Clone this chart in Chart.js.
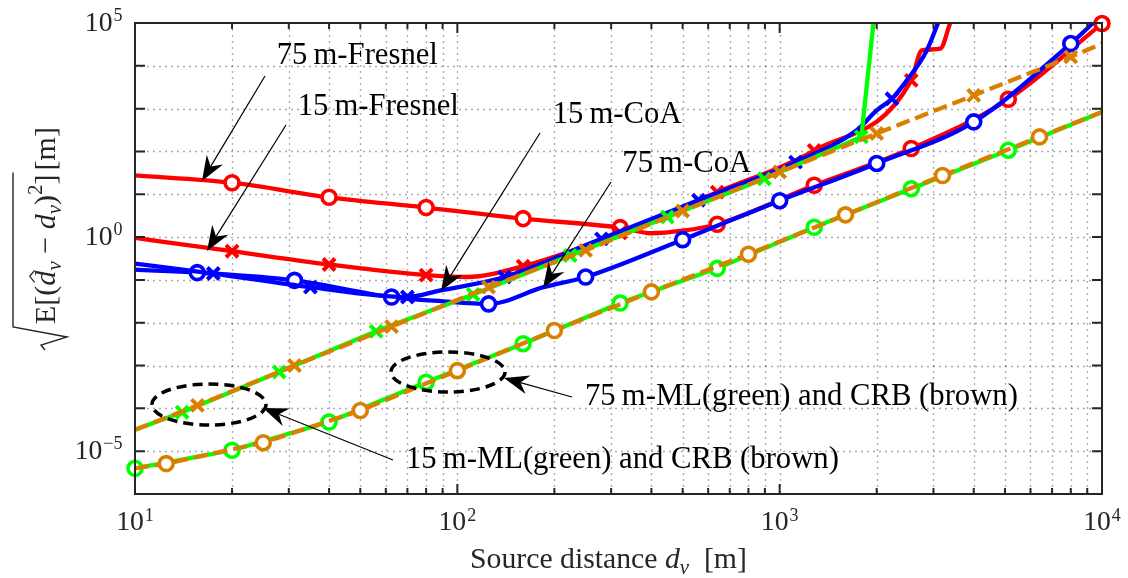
<!DOCTYPE html>
<html>
<head>
<meta charset="utf-8">
<script src="https://cdn.jsdelivr.net/npm/chart.js@4.4.0/dist/chart.umd.min.js"></script>
<style>
  html, body { margin: 0; padding: 0; background: #fff; }
  #wrap { width: 1128px; height: 578px; position: relative; }
</style>
</head>
<body>
<div id="wrap"><canvas id="my-chart"></canvas></div>
<script>
// ---- data ----
let fresnel75X = [10, 20, 40, 80, 160, 320, 400, 500, 640, 1280, 2560, 5120, 10000];
let fresnel75Y = [27.5, 18.6, 8.5, 4.9, 2.7, 1.66, 1.23, 1.41, 2.0, 16.2, 117, 1660, 97000];
let fresnel75Marks = [20, 40, 80, 160, 320, 640, 1280, 2560, 5120, 10000];

let fresnel15X = [10, 20, 40, 80, 107, 160, 320, 640, 1280, 2560, 2760, 3150, 3380];
let fresnel15Y = [0.955, 0.468, 0.229, 0.129, 0.117, 0.209, 1.26, 11.2, 105, 4570, 22900, 25100, 100000];
let fresnel15Marks = [20, 40, 80, 160, 320, 640, 1280, 2560];

let coa15X = [10, 17.5, 35, 70, 88, 140, 280, 560, 1120, 1730, 2000, 2230, 2480, 2860, 3100];
let coa15Y = [0.24, 0.141, 0.0676, 0.0398, 0.0562, 0.117, 0.912, 7.24, 56.2, 309, 912, 1700, 4570, 22900, 100000];
let coa15Marks = [17.5, 35, 70, 140, 280, 560, 1120, 2230];

let coa75X = [10, 15.6, 31.25, 62.5, 90, 125, 185, 250, 500, 1000, 2000, 4000, 8000, 9380];
let coa75Y = [0.174, 0.148, 0.0977, 0.0398, 0.0316, 0.0275, 0.0676, 0.117, 0.871, 7.08, 52.5, 490, 33100, 100000];
let coa75Marks = [15.6, 31.25, 62.5, 125, 250, 500, 1000, 2000, 4000, 8000];

let ml15X = [10, 20, 40, 80, 160, 320, 640, 1280, 2560, 5120, 10000];
let ml15Y = [3.98e-6, 1.05e-5, 4.79e-5, 4.07e-4, 3.24e-3, 0.0288, 0.186, 1.70, 13.5, 107, 832];
let ml15Marks = [10, 20, 40, 80, 160, 320, 640, 1280, 2560, 5120];

let crb15X = [10, 12.5, 25, 50, 100, 200, 400, 800, 1600, 3200, 6400, 10000];
let crb15Y = [3.98e-6, 5.13e-6, 1.58e-5, 8.91e-5, 7.59e-4, 6.6e-3, 0.0525, 0.398, 3.31, 27.5, 219, 832];
let crb15Marks = [12.5, 25, 50, 100, 200, 400, 800, 1600, 3200, 6400];

let ml75X = [10, 14, 28, 56, 112, 224, 448, 896, 1792, 1954];
let ml75Y = [3.16e-5, 8.13e-5, 7.08e-4, 6.3e-3, 0.0457, 0.372, 2.95, 22.9, 219, 100000];
let ml75Marks = [14, 28, 56, 112, 224, 448, 896, 1792];

let crb75X = [10, 15.625, 31.25, 62.5, 125, 250, 500, 1000, 2000, 4000, 8000, 10000];
let crb75Y = [3.16e-5, 1.17e-4, 1e-3, 8.13e-3, 0.0676, 0.49, 4.07, 33.1, 263, 2040, 16200, 33100];
let crb75Marks = [15.625, 31.25, 62.5, 125, 250, 500, 1000, 2000, 4000, 8000];

let xTicks = [10, 100, 1000, 10000];
let xTickExps = ["1", "2", "3", "4"];
let yTicks = [1e-5, 1, 1e5];
let yTickExps = ["\u22125", "0", "5"];

const FONT = "'Liberation Serif', 'DejaVu Serif', serif";
const RED = "#ff0000", BLUE = "#0000ff", GREEN = "#00ff00", BROWN = "#d98000";

function pts(xs, ys) {
  return xs.map((x, i) => ({ x: x, y: ys[i] }));
}

function makeSet(label, xs, ys, marks, color, marker, order, smooth, dash) {
  const circle = marker === "circle";
  const set = {
    label: label,
    data: pts(xs, ys),
    showLine: true,
    order: order,
    borderColor: color,
    borderWidth: 4.3,
    borderDash: dash || [],
    tension: 0,
    clip: false,
    pointStyle: circle ? "circle" : "crossRot",
    pointRadius: (c) => (c.raw && marks.includes(c.raw.x) ? (circle ? 7 : 8.5) : 0),
    pointHoverRadius: 0,
    pointBorderWidth: circle ? 3.6 : 4,
    pointBorderColor: color,
    pointBackgroundColor: "#ffffff",
  };
  if (smooth) set.cubicInterpolationMode = "monotone";
  return set;
}

// ---- text helpers ----
function setFont(ctx, size, italic) {
  ctx.font = (italic ? "italic " : "") + size.toFixed(2) + "px " + FONT;
}
function runSize(r, s) {
  return r.sub || r.sup ? s * 0.7 : s;
}
function measureRuns(ctx, runs, s) {
  let w = 0;
  for (const r of runs) {
    setFont(ctx, runSize(r, s), r.it);
    w += ctx.measureText(r.t).width;
  }
  return w;
}
function drawRuns(ctx, runs, x, y, s) {
  let cx = x;
  for (const r of runs) {
    const sz = runSize(r, s);
    setFont(ctx, sz, r.it);
    const w = ctx.measureText(r.t).width;
    const dy = r.sub ? 0.2 * s : r.sup ? -0.42 * s : 0;
    ctx.fillText(r.t, cx, y + dy);
    if (r.hat) {
      const hx = cx + w * 0.62, hy = y - 0.78 * s;
      ctx.beginPath();
      ctx.moveTo(hx - 0.2 * s, hy + 0.1 * s);
      ctx.lineTo(hx, hy - 0.06 * s);
      ctx.lineTo(hx + 0.2 * s, hy + 0.1 * s);
      ctx.lineWidth = 1.3;
      ctx.stroke();
    }
    cx += w;
  }
  return cx;
}
function fitSize(ctx, runs, width) {
  return 20 * width / measureRuns(ctx, runs, 20);
}

function tickLabel(ctx, exp, x, y, align) {
  setFont(ctx, 27.7, false);
  const w1 = ctx.measureText("10").width;
  setFont(ctx, 18, false);
  const w2 = ctx.measureText(exp).width;
  const total = w1 + 1 + w2;
  const start = align === "center" ? x - total / 2 : x - total;
  setFont(ctx, 27.7, false);
  ctx.fillText("10", start, y);
  setFont(ctx, 18, false);
  ctx.fillText(exp, start + w1 + 1, y - 9.5);
}

function arrow(ctx, x0, y0, x1, y1) {
  const dx = x1 - x0, dy = y1 - y0, L = Math.hypot(dx, dy);
  const ux = dx / L, uy = dy / L, nx = -uy, ny = ux;
  const hl = 25, hw = 9.5, notch = 17;
  ctx.beginPath();
  ctx.moveTo(x0, y0);
  ctx.lineTo(x1 - ux * notch, y1 - uy * notch);
  ctx.lineWidth = 1.2;
  ctx.stroke();
  ctx.beginPath();
  ctx.moveTo(x1, y1);
  ctx.lineTo(x1 - ux * hl + nx * hw, y1 - uy * hl + ny * hw);
  ctx.lineTo(x1 - ux * notch, y1 - uy * notch);
  ctx.lineTo(x1 - ux * hl - nx * hw, y1 - uy * hl - ny * hw);
  ctx.closePath();
  ctx.fill();
}

// annotation texts: [text, left, baseline, right]
let notes = [
  ["75\u2009m-Fresnel", 276.7, 64, 431.7],
  ["15\u2009m-Fresnel", 297.7, 115, 452.7],
  ["15\u2009m-CoA", 552.7, 123.3, 673],
  ["75\u2009m-CoA", 622.3, 171.7, 742.3],
  ["75\u2009m-ML(green) and CRB (brown)", 585, 405, 1018],
  ["15\u2009m-ML(green) and CRB (brown)", 406, 467.7, 841.7],
];
let arrows = [
  [265, 76, 202, 181],
  [286, 125, 207, 251],
  [540, 133, 441, 291],
  [611, 182, 543, 288],
  [572, 397, 504, 378],
  [393, 460, 263, 408],
];
let ellipses = [
  [209, 404.5, 57, 20.5],
  [448, 372, 57, 20],
];

const frame = {
  id: "frame",
  beforeDatasetsDraw(chart) {
    const { ctx, chartArea: a, scales } = chart;
    const xs = scales.x, ys = scales.y;
    ctx.save();
    ctx.strokeStyle = "rgba(0,0,0,0.33)";
    ctx.lineWidth = 1.3;
    ctx.setLineDash([2, 4]);
    for (let k = 1; k <= 3; k++) {
      for (let j = 1; j <= 9; j++) {
        const v = j * Math.pow(10, k);
        if (v <= 10 || v >= 10000) continue;
        const px = Math.round(xs.getPixelForValue(v)) + 0.5;
        ctx.beginPath(); ctx.moveTo(px, a.top); ctx.lineTo(px, a.bottom); ctx.stroke();
      }
    }
    for (let e = -5; e <= 4; e++) {
      const py = Math.round(ys.getPixelForValue(Math.pow(10, e))) + 0.5;
      ctx.beginPath(); ctx.moveTo(a.left, py); ctx.lineTo(a.right, py); ctx.stroke();
    }
    ctx.restore();
  },
  afterDatasetsDraw(chart) {
    const { ctx, chartArea: a, scales } = chart;
    const xs = scales.x, ys = scales.y;
    ctx.save();
    // ticks
    ctx.strokeStyle = "#262626";
    ctx.lineWidth = 2;
    for (let k = 1; k <= 4; k++) {
      for (let j = 1; j <= 9; j++) {
        const v = j * Math.pow(10, k);
        if (v < 10 || v > 10000) continue;
        const px = xs.getPixelForValue(v);
        const len = j === 1 ? 10 : 6;
        ctx.beginPath();
        ctx.moveTo(px, a.bottom); ctx.lineTo(px, a.bottom - len);
        ctx.moveTo(px, a.top); ctx.lineTo(px, a.top + len);
        ctx.stroke();
      }
    }
    for (let e = -6; e <= 5; e++) {
      const py = ys.getPixelForValue(Math.pow(10, e));
      ctx.beginPath();
      ctx.moveTo(a.left, py); ctx.lineTo(a.left + 10, py);
      ctx.moveTo(a.right, py); ctx.lineTo(a.right - 10, py);
      ctx.stroke();
    }
    ctx.strokeRect(a.left, a.top, a.right - a.left, a.bottom - a.top);

    // tick labels
    ctx.fillStyle = "#262626";
    ctx.textBaseline = "alphabetic";
    xTicks.forEach((v, i) => tickLabel(ctx, xTickExps[i], xs.getPixelForValue(v), 530, "center"));
    yTicks.forEach((v, i) => tickLabel(ctx, yTickExps[i], 122.5, ys.getPixelForValue(v) + 7.5, "right"));

    // x title
    ctx.fillStyle = "#262626";
    const xt = [{ t: "Source distance " }, { t: "d", it: 1 }, { t: "v", it: 1, sub: 1 }, { t: "  [m]" }];
    drawRuns(ctx, xt, 470, 568, fitSize(ctx, xt, 277));

    // y title with radical
    const yt = [{ t: "E[(" }, { t: "d", it: 1, hat: 1 }, { t: "v", it: 1, sub: 1 }, { t: " \u2212 " },
                { t: "d", it: 1 }, { t: "v", it: 1, sub: 1 }, { t: ")" }, { t: "2", sup: 1 }, { t: "]" }];
    const unit = [{ t: "[m]" }];
    const s = 20 * (223 - 30) / (measureRuns(ctx, yt, 20) + measureRuns(ctx, unit, 20));
    ctx.save();
    ctx.translate(55, 350);
    ctx.rotate(-Math.PI / 2);
    ctx.strokeStyle = "#262626";
    const end = drawRuns(ctx, yt, 26, 0, s);
    ctx.beginPath();
    ctx.moveTo(0, -10); ctx.lineTo(5, -14); ctx.lineTo(13, 12); ctx.lineTo(23, -42); ctx.lineTo(end + 2, -42);
    ctx.lineWidth = 1.4;
    ctx.stroke();
    drawRuns(ctx, unit, end + 4, 0, s);
    ctx.restore();

    // annotations
    ctx.fillStyle = "#000";
    ctx.strokeStyle = "#000";
    const ns = fitSize(ctx, [{ t: notes[4][0] }], notes[4][3] - notes[4][1]);
    notes.forEach((n) => drawRuns(ctx, [{ t: n[0] }], n[1], n[2], ns));
    arrows.forEach((r) => arrow(ctx, r[0], r[1], r[2], r[3]));
    ctx.lineWidth = 3.5;
    ctx.setLineDash([10, 6]);
    ellipses.forEach((e) => {
      ctx.beginPath();
      ctx.ellipse(e[0], e[1], e[2], e[3], 0, 0, Math.PI * 2);
      ctx.stroke();
    });
    ctx.restore();
  },
};

new Chart("my-chart", {
  type: "scatter",
  data: {
    datasets: [
      makeSet("75 m-Fresnel", fresnel75X, fresnel75Y, fresnel75Marks, RED, "circle", 8, true),
      makeSet("15 m-Fresnel", fresnel15X, fresnel15Y, fresnel15Marks, RED, "cross", 7, true),
      makeSet("75 m-CoA", coa75X, coa75Y, coa75Marks, BLUE, "circle", 6, true),
      makeSet("15 m-CoA", coa15X, coa15Y, coa15Marks, BLUE, "cross", 5, true),
      makeSet("15 m-ML", ml15X, ml15Y, ml15Marks, GREEN, "circle", 4, false),
      makeSet("15 m-CRB", crb15X, crb15Y, crb15Marks, BROWN, "circle", 3, false, [14, 6]),
      makeSet("75 m-ML", ml75X, ml75Y, ml75Marks, GREEN, "cross", 2, false),
      makeSet("75 m-CRB", crb75X, crb75Y, crb75Marks, BROWN, "cross", 1, false, [14, 6]),
    ],
  },
  options: {
    responsive: true,
    maintainAspectRatio: false,
    animation: false,
    events: [],
    layout: { padding: { left: 135, right: 26, top: 23, bottom: 84 } },
    plugins: { legend: { display: false }, tooltip: { enabled: false } },
    scales: {
      x: { type: "logarithmic", min: 10, max: 10000, display: false },
      y: { type: "logarithmic", min: 1e-6, max: 1e5, display: false },
    },
  },
  plugins: [frame],
});
</script>
</body>
</html>
